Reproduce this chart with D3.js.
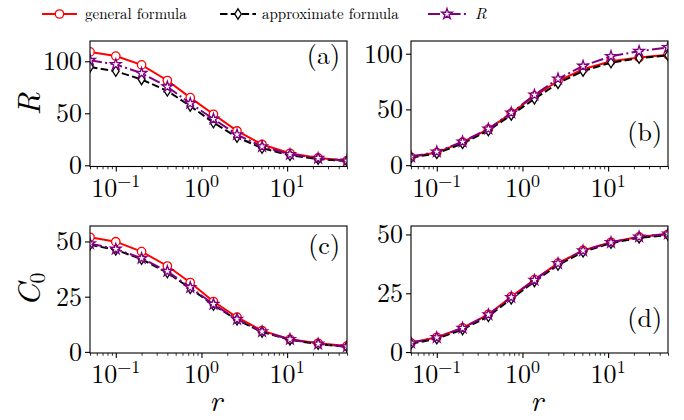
<!DOCTYPE html>
<html><head><meta charset="utf-8">
<script src="https://cdn.jsdelivr.net/npm/d3@7"></script>
<style>html,body{margin:0;padding:0;background:#fff}svg{display:block}</style>
</head><body>
<svg id="chart" width="684" height="420"></svg>
<script>
// ---- data ----
const rValues = [0.05, 0.1, 0.2, 0.4, 0.74, 1.38, 2.6, 5.1, 10.8, 23, 50];
const seriesNames = ["general formula", "approximate formula", "R"];
const aGeneral = [109, 105, 96.5, 81.5, 65, 49, 33, 20, 11.5, 7, 4.5];
const aApprox  = [94.5, 90.5, 82.5, 71.5, 57, 41, 27, 16.5, 9.5, 6, 4];
const aR       = [101, 97, 88.5, 75.5, 59.5, 44.5, 29.5, 18, 10.5, 6.8, 4.3];
const bGeneral = [7.2, 11.3, 20.6, 32.3, 46.6, 62, 75.5, 86, 93.3, 96.5, 99];
const bApprox  = [6.8, 10.5, 19.5, 31, 45, 59.5, 73.5, 84.5, 92, 96, 98.5];
const bR       = [7.5, 12, 21, 32.5, 47, 63, 77.5, 89, 97.7, 102.2, 105.7];
const cGeneral = [51.9, 49.9, 45.4, 38.9, 31.4, 22.8, 15.7, 9.6, 5.7, 3.9, 2.7];
const cApprox  = [48.5, 46.2, 42, 35.9, 28.8, 21.2, 14.5, 9, 5.5, 3.5, 2.3];
const cR       = [49, 46.6, 42.4, 36.5, 29.2, 21.6, 14.8, 9.2, 5.7, 3.6, 2.4];
const dGeneral = [3.9, 6.3, 10.3, 16, 23.5, 30.8, 37.8, 43.2, 46.7, 49, 50.1];
const dApprox  = [3.5, 5.7, 9.6, 15.2, 22.6, 30, 37, 42.6, 46.3, 48.6, 49.7];
const dR       = [3.9, 6.2, 10.2, 15.9, 23.3, 30.6, 37.7, 43.1, 46.6, 49, 50.3];
const xTickValues = [0.1, 1, 10];
const xTickExponents = ["−1", "0", "1"];
const yTicksTop = [0, 50, 100];
const yTicksBottom = [0, 25, 50];
const panelLabels = ["(a)", "(b)", "(c)", "(d)"];

// ---- layout / style ----
const FONT = '"Latin Modern Roman"';
const styles = [
  {color: "#ff0000", dash: null, marker: "circle"},
  {color: "#000000", dash: "7.5,3.3", marker: "diamond"},
  {color: "#800080", dash: "12,3.3,2,3.3", marker: "star"}
];
const panels = [
  {x0: 90,  x1: 347, y0: 41,  y1: 166.5, ydom: [-1.2, 119.5], yt: yTicksTop,    data: [aGeneral, aApprox, aR], lab: 0, lx: 340, ly: 64,  yl: "R"},
  {x0: 411, x1: 668, y0: 41,  y1: 166.5, ydom: [-1.2, 111.4], yt: yTicksTop,    data: [bGeneral, bApprox, bR], lab: 1, lx: 662, ly: 141, yl: null},
  {x0: 90,  x1: 347, y0: 226, y1: 353,   ydom: [-0.5, 57.0],  yt: yTicksBottom, data: [cGeneral, cApprox, cR], lab: 2, lx: 340, ly: 254, yl: "C"},
  {x0: 411, x1: 668, y0: 226, y1: 353,   ydom: [-0.4, 53.6],  yt: yTicksBottom, data: [dGeneral, dApprox, dR], lab: 3, lx: 662, ly: 327, yl: null}
];

const svg = d3.select("#chart");

function markerPath(type) {
  if (type === "circle") return d3.symbol(d3.symbolCircle, Math.PI * 4.2 * 4.2)();
  if (type === "diamond") return "M0,-5.2L3.3,0L0,5.2L-3.3,0Z";
  const pts = [];
  const Ro = 5.6, Ri = Ro * 0.382;
  for (let i = 0; i < 10; i++) {
    const a = -Math.PI / 2 + i * Math.PI / 5;
    const r = i % 2 === 0 ? Ro : Ri;
    pts.push([r * Math.cos(a), r * Math.sin(a)]);
  }
  return "M" + pts.map(p => p[0].toFixed(2) + "," + p[1].toFixed(2)).join("L") + "Z";
}

function txt(sel) { return sel.style("font-family", FONT).attr("fill", "#000"); }

panels.forEach((p, pi) => {
  const x = d3.scaleLog().domain([0.05, 50]).range([p.x0, p.x1]);
  const y = d3.scaleLinear().domain(p.ydom).range([p.y1, p.y0]);
  const g = svg.append("g");

  const clipId = "clip" + pi;
  svg.append("clipPath").attr("id", clipId).append("rect")
    .attr("x", p.x0).attr("y", p.y0).attr("width", p.x1 - p.x0).attr("height", p.y1 - p.y0);
  const plot = g.append("g").attr("clip-path", `url(#${clipId})`);

  p.data.forEach((vals, si) => {
    const st = styles[si];
    const pts = rValues.map((r, i) => [x(r), y(vals[i])]);
    plot.append("path").attr("d", d3.line()(pts)).attr("fill", "none")
      .attr("stroke", st.color).attr("stroke-width", 2)
      .attr("stroke-dasharray", st.dash);
    const mp = markerPath(st.marker);
    plot.selectAll(null).data(pts).enter().append("path")
      .attr("d", mp).attr("transform", d => `translate(${d[0]},${d[1]})`)
      .attr("fill", "#fff").attr("stroke", st.color).attr("stroke-width", 1.3);
  });

  const xg = g.append("g").attr("transform", `translate(0,${p.y1})`)
    .call(d3.axisBottom(x).tickValues(xTickValues).tickSize(5).tickFormat(""));
  xg.select(".domain").remove();
  xg.selectAll("line").attr("stroke-width", 1.1);
  const minor = [];
  [0.01, 0.1, 1, 10].forEach(dec => { for (let k = 2; k <= 9; k++) { const v = dec * k; if (v >= 0.05 && v <= 50.001) minor.push(v); } });
  const xmg = g.append("g").attr("transform", `translate(0,${p.y1})`)
    .call(d3.axisBottom(x).tickValues(minor).tickSize(2.8).tickFormat(""));
  xmg.select(".domain").remove();
  xmg.selectAll("line").attr("stroke-width", 0.8);

  xTickValues.forEach((v, i) => {
    const t = txt(g.append("text")).attr("x", x(v)).attr("y", p.y1 + 30)
      .attr("text-anchor", "middle").attr("font-size", 26);
    t.append("tspan").text("10");
    t.append("tspan").attr("font-size", 18).attr("dy", -10).text(xTickExponents[i]);
  });

  const yg = g.append("g").attr("transform", `translate(${p.x0},0)`)
    .call(d3.axisLeft(y).tickValues(p.yt).tickSize(5).tickPadding(3));
  yg.select(".domain").remove();
  yg.selectAll("line").attr("stroke-width", 1.1);
  txt(yg.selectAll("text")).attr("font-size", 26).attr("dy", "0.32em");

  g.append("rect").attr("x", p.x0).attr("y", p.y0).attr("width", p.x1 - p.x0).attr("height", p.y1 - p.y0)
    .attr("fill", "none").attr("stroke", "#000").attr("stroke-width", 1.1);

  txt(g.append("text")).attr("x", p.lx).attr("y", p.ly).attr("text-anchor", "end")
    .attr("font-size", 26).text(panelLabels[p.lab]);

  if (p.yl) {
    const cy = (p.y0 + p.y1) / 2;
    const t = txt(g.append("text")).attr("transform", `translate(40,${cy}) rotate(-90)`)
      .attr("text-anchor", "middle").attr("font-size", 32).attr("font-style", "italic");
    t.append("tspan").text(p.yl);
    if (p.yl === "C") t.append("tspan").attr("font-size", 22).attr("font-style", "normal").attr("dy", 5).text("0");
  }
});

[[90, 347], [411, 668]].forEach(([a, b]) => {
  txt(svg.append("text")).attr("x", (a + b) / 2 - 3).attr("y", 411).attr("text-anchor", "middle")
    .attr("font-size", 30).attr("font-style", "italic").text("r");
});

const legendX = [[42, 77, 85], [220, 256, 262], [428, 466, 475]];
seriesNames.forEach((name, i) => {
  const st = styles[i];
  const [l0, l1, tx] = legendX[i];
  const ly = 14;
  svg.append("line").attr("x1", l0).attr("x2", l1).attr("y1", ly).attr("y2", ly)
    .attr("stroke", st.color).attr("stroke-width", 2).attr("stroke-dasharray", st.dash);
  svg.append("path").attr("d", markerPath(st.marker)).attr("transform", `translate(${(l0 + l1) / 2},${ly})`)
    .attr("fill", "#fff").attr("stroke", st.color).attr("stroke-width", 1.3);
  const t = txt(svg.append("text")).attr("x", tx).attr("y", ly + 5).attr("font-size", 15).text(name);
  if (name === "R") t.attr("font-style", "italic").attr("font-size", 16);
});
</script>
</body></html>
